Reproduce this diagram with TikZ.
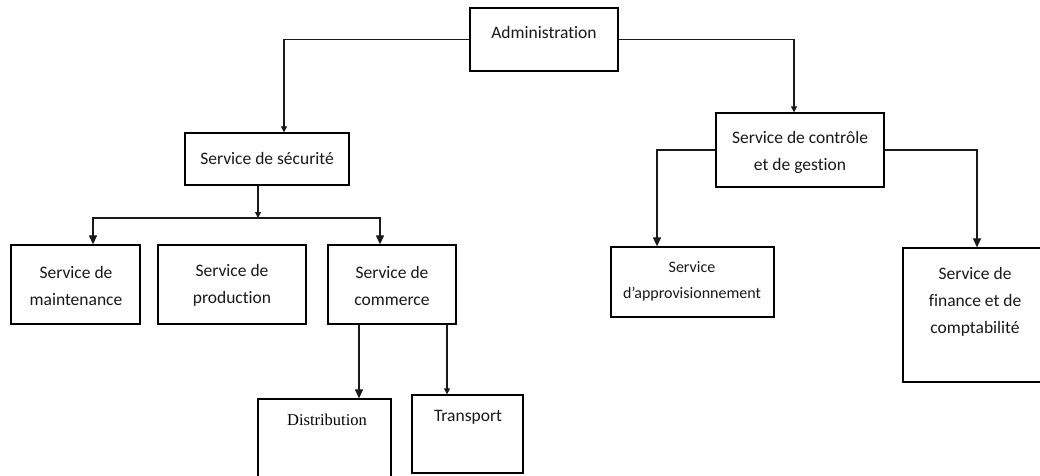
\documentclass[tikz,border=0pt]{standalone}
\usepackage{fontspec}
\setmainfont{Carlito}[Ligatures={NoCommon}]
\newfontfamily\serifdist{Liberation Serif}
\usetikzlibrary{arrows.meta,calc}
\tikzset{
  box/.style={draw=black, line width=1.3pt, fill=none, inner sep=0pt},
  txt/.style={inner sep=0pt, align=center, text=black!90, font={\fontsize{17.5}{27}\selectfont}},
  conn/.style={draw=black!90, line width=1.2pt},
  arr/.style={conn, -{Triangle[length=9pt,width=8pt]}},
  smallarr/.style={conn, -{Triangle[length=6pt,width=6pt]}}
}
\begin{document}
\begin{tikzpicture}[x=1pt,y=-1pt]
\useasboundingbox (0,0) rectangle (1040,475);
\clip (0,0) rectangle (1040,475);
\fill[white] (0,0) rectangle (1040,475);
% boxes
\node[box, minimum width=148, minimum height=63] (admin) at (544,39.5) {};
\node[box, minimum width=164, minimum height=52] (secu) at (267,159) {};
\node[box, minimum width=129, minimum height=79] (maint) at (75.5,284.5) {};
\node[box, minimum width=148, minimum height=79] (prod) at (232,284.5) {};
\node[box, minimum width=128, minimum height=79] (comm) at (392,284.5) {};
\node[box, minimum width=133, minimum height=96] (distr) at (324.5,447) {};
\node[box, minimum width=111, minimum height=78] (trans) at (467.5,434) {};
\node[box, minimum width=168, minimum height=74] (ctrl) at (800,150) {};
\node[box, minimum width=163, minimum height=70] (approv) at (692.5,282) {};
\node[box, minimum width=142, minimum height=134] (fin) at (974,315) {};
% texts
\node[txt] (admin-t) at (544,32) {Administration};
\node[txt] (secu-t) at (267,158) {Service de sécurité};
\node[txt] (maint-t) at (76,285.5) {Service de\\maintenance};
\node[txt] (prod-t) at (232,285.5) {Service de\\production};
\node[txt] (comm-t) at (392,285.5) {Service de\\commerce};
\node[txt, text=black, font={\serifdist\fontsize{16.5}{27}\selectfont}] (distr-t) at (327,420) {Distribution};
\node[txt] (trans-t) at (468,417) {Transport};
\node[txt] (ctrl-t) at (800,152.5) {Service de contrôle\\et de gestion};
\node[txt, font={\fontsize{16}{26}\selectfont}] (approv-t) at (692,281) {Service\\d'approvisionnement};
\node[txt] (fin-t) at (975,302) {Service de\\finance et de\\comptabilité};
% connectors
\coordinate (bus) at (258,218);
\draw[smallarr] (admin.west) -| ([xshift=17pt]secu.north);
\draw[smallarr] (admin.east) -| ([xshift=-6pt]ctrl.north);
\draw[smallarr] ([xshift=-9pt]secu.south) -- (bus);
\draw[arr] (bus) -| ([xshift=17.5pt]maint.north);
\draw[arr] (bus) -| ([xshift=-12pt]comm.north);
\draw[arr] ([xshift=-33pt]comm.south) -- ([xshift=-33pt]comm.south |- distr.north);
\draw[smallarr] ([xshift=55pt]comm.south) -- ([xshift=55pt]comm.south |- trans.north);
\draw[arr] (ctrl.west) -| ([xshift=-35.5pt]approv.north);
\draw[arr] (ctrl.east) -| ([xshift=3pt]fin.north);
\end{tikzpicture}
\end{document}
